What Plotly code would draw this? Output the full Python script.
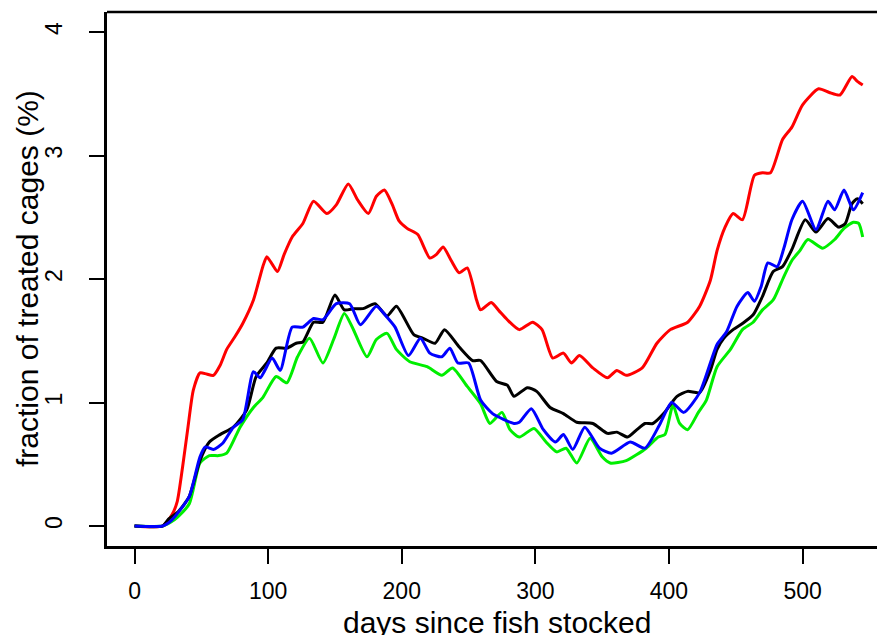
import plotly.graph_objects as go

# ---- data (day, fraction of treated cages %) ----
red_days = [0, 21, 28, 32, 36, 40, 44, 49, 54, 59, 64, 69, 75, 81, 89, 96, 99, 103, 107,
            112, 118, 126, 134, 144, 151, 160, 167, 175, 181, 187, 193, 198, 204, 212,
            221, 226, 231, 237, 243, 249, 256, 259, 267, 273, 279, 288, 298, 305, 313,
            321, 327, 333, 343, 354, 361, 368, 380, 391, 401, 414, 423, 431, 436, 442,
            448, 455, 464, 470, 476, 485, 492, 500, 512, 520, 528, 537, 541, 545]
red_vals = [0.0, 0.0, 0.09, 0.2, 0.48, 0.8, 1.1, 1.24, 1.23, 1.22, 1.3, 1.43, 1.53, 1.64, 1.83, 2.1, 2.18, 2.12, 2.06,
            2.2, 2.34, 2.45, 2.63, 2.53, 2.6, 2.77, 2.64, 2.53, 2.67, 2.72, 2.6, 2.47, 2.41, 2.36,
            2.17, 2.2, 2.26, 2.15, 2.05, 2.09, 1.83, 1.75, 1.81, 1.74, 1.67, 1.59, 1.65, 1.59, 1.36,
            1.4, 1.32, 1.38, 1.28, 1.2, 1.26, 1.22, 1.28, 1.48, 1.59, 1.65, 1.78, 1.99, 2.23, 2.42,
            2.53, 2.48, 2.84, 2.86, 2.86, 3.13, 3.23, 3.41, 3.54, 3.51, 3.49, 3.64, 3.6, 3.57]

black_days = [0, 21, 25, 33, 41, 49, 56, 64, 74, 84, 91, 99, 106, 114, 121, 126, 134, 141,
              150, 157, 164, 171, 180, 189, 196, 209, 216, 225, 232, 243, 253, 259, 271,
              279, 284, 294, 301, 311, 321, 331, 343, 354, 361, 369, 376, 382, 388, 396,
              406, 414, 423, 431, 436, 441, 448, 455, 463, 470, 478, 485, 492, 502, 510,
              519, 527, 532, 537, 541, 545]
black_vals = [0.0, 0.0, 0.05, 0.12, 0.24, 0.53, 0.68, 0.74, 0.8, 0.94, 1.21, 1.32, 1.44, 1.44, 1.48, 1.49, 1.65, 1.65,
              1.87, 1.75, 1.76, 1.76, 1.8, 1.7, 1.78, 1.55, 1.52, 1.48, 1.59, 1.45, 1.34, 1.34, 1.17,
              1.14, 1.05, 1.12, 1.09, 0.96, 0.91, 0.84, 0.83, 0.75, 0.76, 0.72, 0.78, 0.83, 0.83, 0.91,
              1.05, 1.09, 1.08, 1.26, 1.43, 1.52, 1.59, 1.64, 1.71, 1.86, 2.06, 2.1, 2.24, 2.48, 2.38,
              2.49, 2.42, 2.45, 2.61, 2.65, 2.61]

blue_days = [0, 21, 27, 32, 41, 49, 53, 59, 66, 74, 81, 89, 94, 103, 109, 118, 126, 134, 141,
             151, 161, 169, 181, 189, 195, 205, 214, 221, 230, 236, 242, 250, 259, 268,
             284, 288, 297, 306, 315, 321, 328, 337, 348, 357, 371, 382, 393, 402, 411,
             423, 436, 443, 451, 459, 464, 469, 474, 481, 486, 492, 500, 510, 519, 524,
             531, 538, 545]
blue_vals = [0.0, 0.0, 0.04, 0.1, 0.24, 0.56, 0.64, 0.62, 0.67, 0.8, 0.86, 1.25, 1.2, 1.36, 1.26, 1.61, 1.61, 1.68, 1.67,
             1.8, 1.8, 1.63, 1.78, 1.69, 1.61, 1.38, 1.52, 1.4, 1.37, 1.44, 1.32, 1.32, 1.02, 0.91,
             0.83, 0.84, 0.95, 0.78, 0.68, 0.74, 0.62, 0.8, 0.63, 0.59, 0.68, 0.63, 0.82, 1.0, 0.92,
             1.08, 1.47, 1.57, 1.78, 1.89, 1.82, 1.94, 2.13, 2.1, 2.25, 2.48, 2.63, 2.4, 2.63, 2.56,
             2.72, 2.56, 2.7]

green_days = [0, 21, 27, 32, 41, 49, 56, 63, 69, 79, 89, 96, 106, 114, 122, 131, 141, 149,
              157, 163, 174, 181, 189, 196, 206, 219, 230, 238, 249, 259, 266, 275, 281,
              288, 299, 308, 316, 323, 331, 341, 350, 356, 368, 383, 392, 397, 403, 408,
              414, 422, 428, 436, 446, 455, 463, 470, 478, 486, 492, 498, 504, 515, 524,
              531, 538, 542, 545]
green_vals = [0.0, 0.0, 0.03, 0.07, 0.18, 0.51, 0.57, 0.57, 0.59, 0.8, 0.96, 1.04, 1.21, 1.16, 1.37, 1.52, 1.32, 1.51,
              1.72, 1.61, 1.37, 1.51, 1.56, 1.43, 1.33, 1.29, 1.22, 1.28, 1.13, 0.99, 0.83, 0.92, 0.78,
              0.72, 0.79, 0.68, 0.6, 0.63, 0.51, 0.71, 0.56, 0.51, 0.53, 0.63, 0.72, 0.74, 0.98, 0.83,
              0.78, 0.92, 1.02, 1.29, 1.43, 1.59, 1.65, 1.75, 1.83, 2.02, 2.15, 2.23, 2.32, 2.25, 2.32,
              2.41, 2.46, 2.45, 2.34]

x_ticks = [0, 100, 200, 300, 400, 500]
y_ticks = [0, 1, 2, 3, 4]

FONT = "Liberation Sans, Arial, Helvetica, sans-serif"

fig = go.Figure()
for days, vals, col in [(red_days, red_vals, "#ff0000"),
                        (green_days, green_vals, "#00ee00"),
                        (black_days, black_vals, "#000000"),
                        (blue_days, blue_vals, "#0000ff")]:
    fig.add_trace(go.Scatter(x=days, y=vals, mode="lines",
                             line=dict(color=col, width=3, shape="spline", smoothing=0.6),
                             showlegend=False, hoverinfo="skip"))

fig.update_layout(
    width=877, height=635,
    margin=dict(l=107, r=0, t=12, b=89),
    paper_bgcolor="white", plot_bgcolor="white",
    font=dict(family=FONT, color="black"),
    xaxis=dict(range=[-20.6, 555.7], tickvals=x_ticks, ticktext=[str(v) for v in x_ticks],
               showgrid=False, zeroline=False, showline=True, linecolor="black", linewidth=2.5,
               ticks="outside", ticklen=15, tickwidth=2, tickcolor="black",
               tickfont=dict(size=23, family=FONT), ticklabelstandoff=8,
               automargin=False),
    yaxis=dict(range=[-0.162, 4.162], tickvals=y_ticks, ticktext=[str(v) for v in y_ticks],
               showgrid=False, zeroline=False, showline=True, linecolor="black", linewidth=2.5,
               ticks="outside", ticklen=15, tickwidth=2, tickcolor="black", tickangle=-90,
               tickfont=dict(size=23, family=FONT), ticklabelstandoff=18,
               automargin=False),
    shapes=[dict(type="line", xref="paper", yref="paper", x0=0, x1=1, y0=1, y1=1,
                 line=dict(color="black", width=2.5))],
    annotations=[
        dict(text="fraction of treated cages (%)", textangle=-90,
             xref="paper", yref="paper", x=(27 - 107) / 770, y=0.5,
             xanchor="center", yanchor="middle", showarrow=False,
             font=dict(size=30, family=FONT)),
        dict(text="days since fish stocked",
             xref="paper", yref="paper", x=(497 - 107) / 770, y=(546 - 622) / 534,
             xanchor="center", yanchor="middle", showarrow=False,
             font=dict(size=30, family=FONT)),
    ],
)

fig.write_html("out.html", config={"displayModeBar": False},
               post_script="document.body.style.margin='0';document.body.style.padding='0';")
